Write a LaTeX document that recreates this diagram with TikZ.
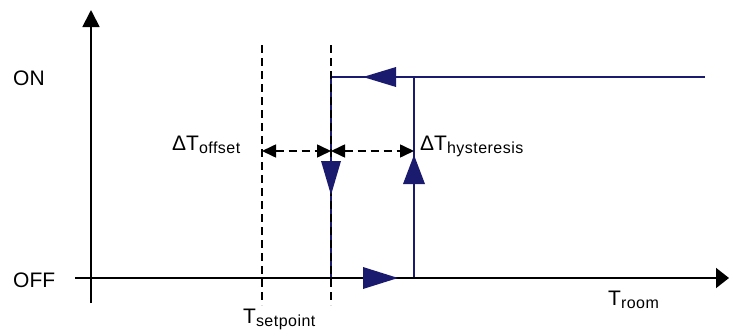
\documentclass[tikz,border=0pt]{standalone}
\usepackage{fontspec}
\setmainfont{Liberation Sans}
\usetikzlibrary{arrows.meta}
\definecolor{navy}{RGB}{26,26,110}
\newcommand{\mysub}[2]{#1\raisebox{-3pt}{\fontsize{16}{16}\selectfont\addfontfeatures{LetterSpace=3}#2}}
\begin{document}
\begin{tikzpicture}[x=1pt,y=-1pt,
  lbl/.style={anchor=base west,inner sep=0pt,font=\fontsize{21}{25}\selectfont},
  axis/.style={line width=1.8pt,black},
  curve/.style={line width=1.8pt,navy},
  guide/.style={line width=1.6pt,black,dash pattern=on 8pt off 5pt},
  dim/.style={line width=1.6pt,black,dash pattern=on 8pt off 5pt,{Triangle[length=14pt,width=13pt]}-{Triangle[length=14pt,width=13pt]}},
  tri/.style={fill=navy,draw=none}]
\useasboundingbox (0,0) rectangle (729,332);
% coordinates
\coordinate (ybot) at (91,303);
\coordinate (ytop) at (91,10);
\coordinate (xl) at (75,278);
\coordinate (xr) at (729,278);
\coordinate (sp) at (262,151);
\coordinate (a) at (331,151);
\coordinate (b) at (414,151);
\coordinate (onl) at (331,77);
\coordinate (onr) at (705,77);
\coordinate (onm) at (414,77);
\coordinate (offa) at (331,278);
\coordinate (offb) at (414,278);
% blue curve
\draw[curve] (offa) -- (onl) -- (onr);
\draw[curve] (offb) -- (onm);
% axes
\draw[axis,-{Triangle[length=17pt,width=17pt]}] (ybot) -- (ytop);
\draw[axis,-{Triangle[length=13pt,width=20pt]}] (xl) -- (xr);
% dashed guides
\draw[guide] (262,45) -- (262,305);
\draw[guide] (331,45) -- (331,305);
% dimension arrows
\draw[dim] (sp) -- (a);
\draw[dim] (a) -- (b);
% blue direction triangles
\fill[tri] (363,77) -- (396,67) -- (396,87) -- cycle;
\fill[tri] (398,278) -- (363,267) -- (363,289) -- cycle;
\fill[tri] (331,195) -- (321,161) -- (341,161) -- cycle;
\fill[tri] (414,155) -- (403,184) -- (425,184) -- cycle;
% labels
\node[lbl] (on) at (13,85) {ON};
\node[lbl] (off) at (13,287) {OFF};
\node[lbl] (offlab) at (172,150) {\mysub{ΔT}{offset}};
\node[lbl] (hystlab) at (420,150) {\mysub{ΔT}{hysteresis}};
\node[lbl] (setlab) at (243,323) {\mysub{T}{setpoint}};
\node[lbl] (roomlab) at (608,305) {\mysub{T}{room}};
\end{tikzpicture}
\end{document}
